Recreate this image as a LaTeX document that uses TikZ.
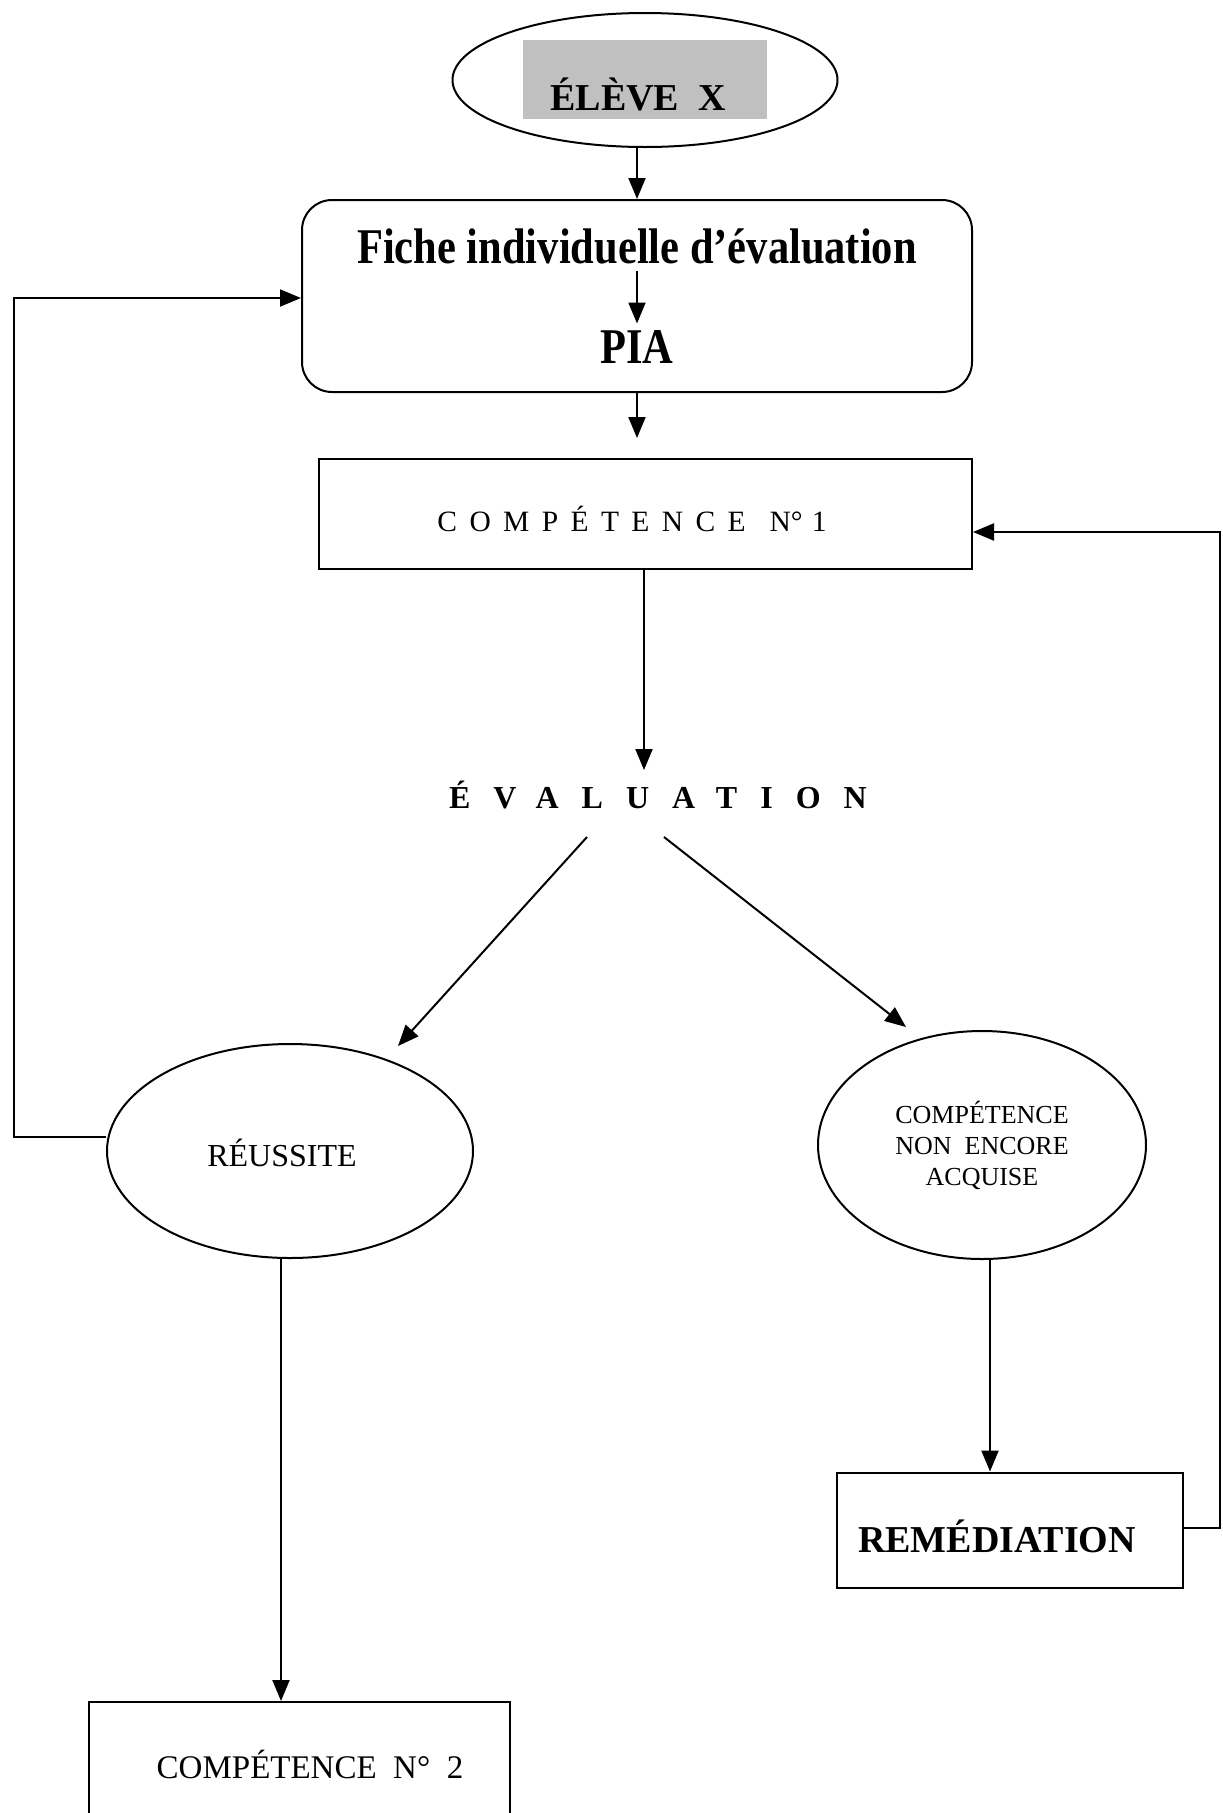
\documentclass[tikz,border=0pt]{standalone}
\usepackage{fontspec}
\setmainfont{Liberation Serif}
\newfontfamily\condb[FakeStretch=0.85]{Liberation Serif Bold}
\usetikzlibrary{shapes.geometric,arrows.meta}
\definecolor{boxgray}{HTML}{C0C0C0}
\begin{document}
\begin{tikzpicture}[x=1pt,y=-1pt,line width=2pt,
  arr/.style={-{Triangle[length=21pt,width=17pt]}},
  ovalnode/.style={ellipse,draw,inner sep=0pt},
  rectnode/.style={rectangle,draw,inner sep=0pt},
  txt/.style={inner sep=2pt}]
\useasboundingbox (0,0) rectangle (1223,1813);
% top
\node[ovalnode,minimum width=385pt,minimum height=134pt] (eleve) at (645,80) {};
\node[fill=boxgray,minimum width=244pt,minimum height=79pt,inner sep=0pt] (elevebg) at (645,79.5) {};
\node[txt] (elevet) at (638,94) {\bfseries\fontsize{38}{44}\selectfont ÉLÈVE\ \ X};
% fiche box
\node[rectnode,rounded corners=30pt,minimum width=670pt,minimum height=192pt] (fichebox) at (637,296) {};
\node[txt] (fichet) at (637,246) {\condb\fontsize{50}{56}\selectfont Fiche individuelle d’évaluation};
\node[txt] (pia) at (637,347) {\condb\fontsize{50}{56}\selectfont PIA};
% comp 1
\node[rectnode,minimum width=653pt,minimum height=110pt] (comp1) at (645.5,514) {};
\node[txt] (comp1t) at (632,519) {\fontsize{29.5}{33}\selectfont{\addfontfeature{LetterSpace=42}COMPÉTENCE}\hspace{24pt}N°\hspace{9pt}1};
% evaluation
\node[txt] (eval) at (658,795) {\bfseries\fontsize{32}{38}\selectfont\addfontfeature{LetterSpace=72}ÉVALUATION};
% reussite
\node[ovalnode,minimum width=366pt,minimum height=214pt] (reu) at (290,1151) {};
\node[txt] (reut) at (282,1153) {\fontsize{32}{38}\selectfont RÉUSSITE};
% non acquise
\node[ovalnode,minimum width=328pt,minimum height=228pt,align=center,font=\fontsize{26}{31}\selectfont] (nea) at (982,1145) {COMPÉTENCE\\NON\ \ ENCORE\\ACQUISE};
% remediation
\node[rectnode,minimum width=346pt,minimum height=115pt] (rem) at (1010,1530) {};
\node[txt] (remt) at (997,1536) {\bfseries\fontsize{38}{44}\selectfont REMÉDIATION};
% comp 2
\node[rectnode,minimum width=421pt,minimum height=240pt] (comp2) at (299.5,1822) {};
\node[txt] (comp2t) at (310,1764) {\fontsize{33}{38}\selectfont COMPÉTENCE\ \ N°\ \ 2};
% connectors
\draw[arr] ([xshift=-8pt]eleve.south) -- ([xshift=-8pt]eleve.south |- fichebox.north);
\draw[arr,shorten <=4pt,shorten >=4pt] (fichet.south -| pia.north) -- (pia.north);
\draw[arr,shorten >=20pt] (fichebox.south) -- (fichebox.south |- comp1.north);
\draw[arr,shorten >=8pt] ([xshift=-1.5pt]comp1.south) -- ([xshift=-1.5pt]comp1.south |- eval.north);
\draw[arr] ([xshift=-71pt,yshift=-42pt]eval.center) -- ([xshift=108pt,yshift=105pt]reu.center);
\draw[arr] ([xshift=6pt,yshift=-42pt]eval.center) -- ([xshift=-76pt,yshift=118pt]nea.center);
\coordinate (lx) at (14,1137);
\draw[arr] ([yshift=14pt]reu.west) -- (lx) |- ([yshift=-2pt]fichebox.west);
\draw[arr] ([xshift=-9pt]reu.south) -- ([xshift=-9pt]reu.south |- comp2.north);
\draw[arr] ([xshift=8pt]nea.south) -- ([xshift=8pt]nea.south |- rem.north);
\coordinate (rx) at (1220,1528);
\draw[arr] ([yshift=2pt]rem.east) -- (rx) |- ([yshift=-18pt]comp1.east);
\end{tikzpicture}
\end{document}
